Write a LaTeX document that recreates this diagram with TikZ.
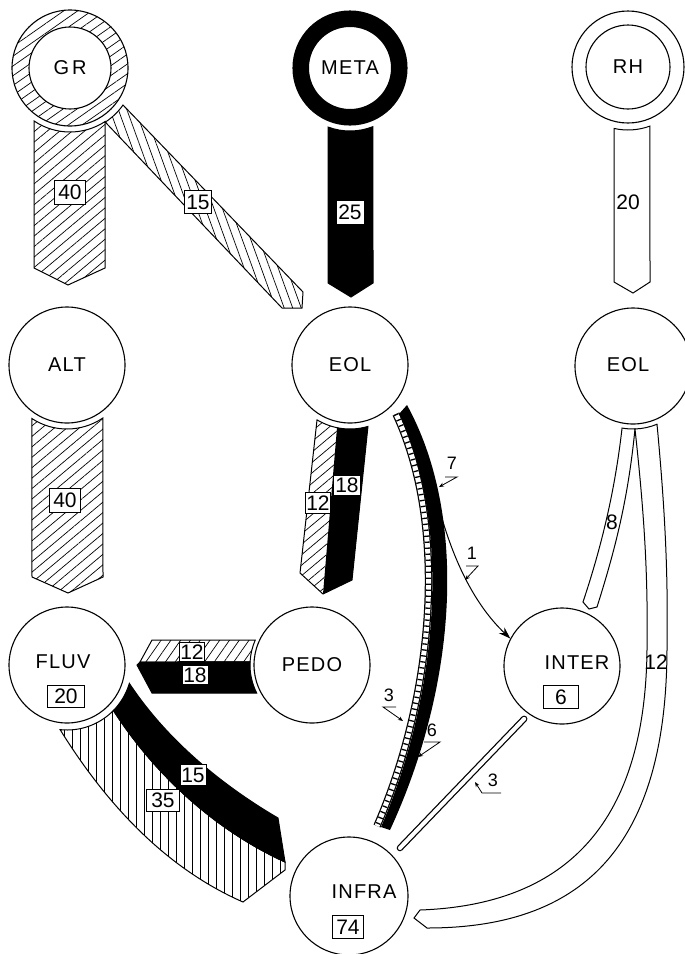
\documentclass[tikz,border=0pt]{standalone}
\usepackage{fontspec}
\setmainfont{Liberation Sans}
\newfontfamily\lblfont[LetterSpace=6]{Liberation Sans}
\usetikzlibrary{patterns.meta,arrows.meta,calc}
\begin{document}
\begin{tikzpicture}[x=1pt,y=-1pt,
  circ/.style={circle,draw,line width=1.1pt,minimum size=#1,inner sep=0pt,font=\lblfont\fontsize{20}{20}\selectfont},
  ctext/.style={inner sep=0pt,font=\lblfont\fontsize{20}{20}\selectfont},
  numbox/.style={draw,fill=white,line width=0.9pt,inner sep=1pt,minimum width=#1,minimum height=23pt,font=\fontsize{21}{21}\selectfont},
  numbox/.default=28pt,
  plainnum/.style={inner sep=0pt,font=\fontsize{21}{21}\selectfont},
  smallnum/.style={inner sep=0pt,font=\fontsize{18}{18}\selectfont},
  band/.style={draw,line width=1pt,line join=miter},
  hatch/.style={pattern={Lines[angle=#1,distance=8pt,line width=0.7pt]}},
  leader/.style={line width=0.8pt,-{Stealth[length=5pt,width=4pt]}},
]
\useasboundingbox (0,0) rectangle (685,954);

% ---------- circles ----------
\node[circ=116pt] (GR) at (70,68) {};
\node[circ=114pt] (META) at (350,68) {};
\node[circ=112pt] (RH) at (628,67) {};
\node[circ=116pt] (ALT) at (67,365) {ALT};
\node[circ=116pt] (EOLm) at (350,365) {EOL};
\node[circ=116pt] (EOLr) at (633,366) {};
\node[circ=116pt] (FLUV) at (67,665) {};
\node[circ=116pt] (PEDO) at (312,665) {PEDO};
\node[circ=116pt] (INTER) at (562,666) {};
\node[circ=118pt] (INFRA) at (349,896) {};

% GR hatched ring
\path[pattern={Lines[angle=35,distance=8pt,line width=0.7pt]},even odd rule]
  (GR.center) circle[radius=58pt] (GR.center) circle[radius=41pt];
\draw[line width=1.1pt] (GR.center) circle[radius=41pt];
\node[ctext] at (GR.center) {G\kern3pt R};
% META black ring
\fill[black,even odd rule] (META.center) circle[radius=57pt] (META.center) circle[radius=41pt];
\node[ctext] at (META.center) {META};
% RH double ring
\draw[line width=1.1pt] (RH.center) circle[radius=42pt];
\node[ctext] at (RH.center) {RH};
% EOL right text
\node[ctext] at (628,365) {EOL};
% FLUV
\node[ctext] at (63,662) {FLUV};
\node[numbox=37pt,minimum height=22pt] at (66,696) {20};
% INTER
\node[ctext] at (577,663) {INTER};
\node[numbox=35pt] at (561,697) {6};
% INFRA
\node[ctext] at (364,892) {INFRA};
\node[numbox=31pt] at (348,927) {74};

% ---------- GR bands ----------
\draw[band,hatch=110] ($(GR.center)+(-57:64pt)$) -- (282,308) -- (302,308) -- (303,292)
  -- (123,105) arc[start angle=-34.9,end angle=-57,radius=64pt] -- cycle;
\draw[band,hatch=40] ($(GR.center)+(-124.2:64pt)$) arc[start angle=-124.2,end angle=-56.8,radius=64pt]
  -- (105,268) -- (68,285) -- (34,268) -- cycle;
\node[numbox=31pt,minimum height=24pt] at (70,192) {40};
\node[numbox=27pt,minimum height=23pt] at (198,202) {15};

% ---------- META band ----------
\draw[band,fill=black] ($(META.center)+(-110.4:63pt)$) arc[start angle=-110.4,end angle=-68.6,radius=63pt]
  -- (373,283) -- (351,297) -- (328,283) -- cycle;
\node[numbox=28pt,minimum height=24pt] at (350,212) {25};

% ---------- RH band ----------
\draw[band,fill=white] ($(RH.center)+(-102.8:63pt)$) arc[start angle=-102.8,end angle=-69.6,radius=63pt]
  -- (650,282) -- (633,293) -- (614,282) -- cycle;
\node[plainnum] at (628,202) {20};

% ---------- ALT band ----------
\draw[band,hatch=40] ($(ALT.center)+(-123.2:64pt)$) arc[start angle=-123.2,end angle=-55.8,radius=64pt]
  -- (103,577) -- (68,593) -- (32,577) -- cycle;
\node[numbox=31pt,minimum height=24pt] at (65,500) {40};

% ---------- EOL (middle) band ----------
\path[hatch=40] ($(EOLm.center)+(-121:64pt)$) arc[start angle=-121,end angle=-101.7,radius=64pt]
  -- (323,594) -- (300,573) -- cycle;
\fill[black] ($(EOLm.center)+(-101.7:64pt)$) arc[start angle=-101.7,end angle=-73.7,radius=64pt]
  -- (352,580) -- (323,594) -- cycle;
\draw[band] ($(EOLm.center)+(-121:64pt)$) arc[start angle=-121,end angle=-73.7,radius=64pt]
  -- (352,580) -- (323,594) -- (300,573) -- cycle;
\node[numbox=27pt,minimum height=20pt] at (347,485) {18};
\node[numbox=23pt,minimum height=21pt] at (318,503) {12};

% ---------- EOL (right) bands ----------
\draw[band,fill=white] ($(EOLr.center)+(-100:63pt)$) arc[start angle=-100,end angle=-88.2,radius=63pt]
  .. controls (628,500) and (615,550) .. (597,607) -- (589,609) -- (583,602)
  .. controls (602,545) and (615,490) .. ($(EOLr.center)+(-100:63pt)$) -- cycle;
\node[plainnum] at (612,522) {8};
\draw[band,fill=white] ($(EOLr.center)+(-88.2:63pt)$) arc[start angle=-88.2,end angle=-67.6,radius=63pt]
  .. controls (666,520) and (668,580) .. (667,650)
  .. controls (666,850) and (580,928) .. (427,928) -- (414,918) -- (420,910)
  .. controls (560,905) and (645,830) .. (647,650)
  .. controls (648,580) and (645,520) .. ($(EOLr.center)+(-88.2:63pt)$) -- cycle;
\node[plainnum] at (656,662) {12};

% ---------- PEDO -> FLUV band ----------
\draw[band,hatch=55] (152,640) -- ($(PEDO.center)+(156.3:62pt)$) arc[start angle=156.3,end angle=177.2,radius=62pt]
  -- (140,662) -- cycle;
\draw[band,fill=black] ($(PEDO.center)+(177.2:62pt)$) arc[start angle=177.2,end angle=206.9,radius=62pt]
  -- (152,693) -- (137,665) -- (140,662) -- cycle;
\node[numbox=25pt,minimum height=19pt] at (192,652) {12};
\node[numbox=26pt,minimum height=19pt] at (195,675) {18};

% ---------- FLUV -> INFRA band ----------
\draw[band,hatch=90] ($(FLUV.center)+(-44.4:65pt)$) .. controls (155,775) and (215,830) .. (285,862)
  -- (285,870) -- (243,902) .. controls (170,870) and (110,810) .. ($(FLUV.center)+(-96.1:65pt)$)
  arc[start angle=-96.1,end angle=-44.4,radius=65pt] -- cycle;
\draw[band,fill=black] ($(FLUV.center)+(-16.4:65pt)$) .. controls (170,745) and (230,790) .. (278,818)
  -- (285,862) .. controls (215,830) and (155,775) .. ($(FLUV.center)+(-44.4:65pt)$)
  arc[start angle=-44.4,end angle=-16.4,radius=65pt] -- cycle;
\node[numbox=26pt,minimum height=21pt] at (193,775) {15};
\node[numbox=33pt,minimum height=22pt] at (163,800) {35};

% ---------- EOL (middle) -> INFRA band ----------
\draw[line width=7.5pt] (396,414) .. controls (450,530) and (432,700) .. (377,826);
\draw[line width=5pt,white] (396,414) .. controls (450,530) and (432,700) .. (377,826);
\draw[line width=5pt,dash pattern=on 1.3pt off 4.7pt] (396,414) .. controls (450,530) and (432,700) .. (377,826);
\fill[black] (399,414) .. controls (454,530) and (436,700) .. (381,827) -- (390,830)
  .. controls (455,690) and (470,520) .. (407,405) -- cycle;
\draw[line width=1pt,-{Stealth[length=12pt,width=8pt]}] (437,500) .. controls (452,560) and (475,605) .. (INTER.152);

\node[smallnum] at (452,463) {7};
\draw[leader] (445,477) -- (457,477) -- (439,487);
\node[smallnum] at (472,553) {1};
\draw[leader] (466,566) -- (478,566) -- (465,580);
\node[smallnum] at (389,695) {3};
\draw[leader] (396,707) -- (383,707) -- (403,721);
\node[smallnum] at (432,730) {6};
\draw[leader] (424,742) -- (440,742) -- (418,757);

% ---------- INTER -> INFRA band ----------
\coordinate (ii1) at ($(INTER.center)+(-125.6:65pt)$);
\coordinate (ii2) at ($(INFRA.center)+(43.3:70pt)$);
\draw[line width=6.5pt,line cap=round] (ii1) -- (ii2);
\draw[line width=4pt,line cap=round,white] (ii1) -- (ii2);
\node[smallnum] at (493,780) {3};
\draw[leader] (501,793) -- (482,793) -- (475,782);
\end{tikzpicture}
\end{document}
